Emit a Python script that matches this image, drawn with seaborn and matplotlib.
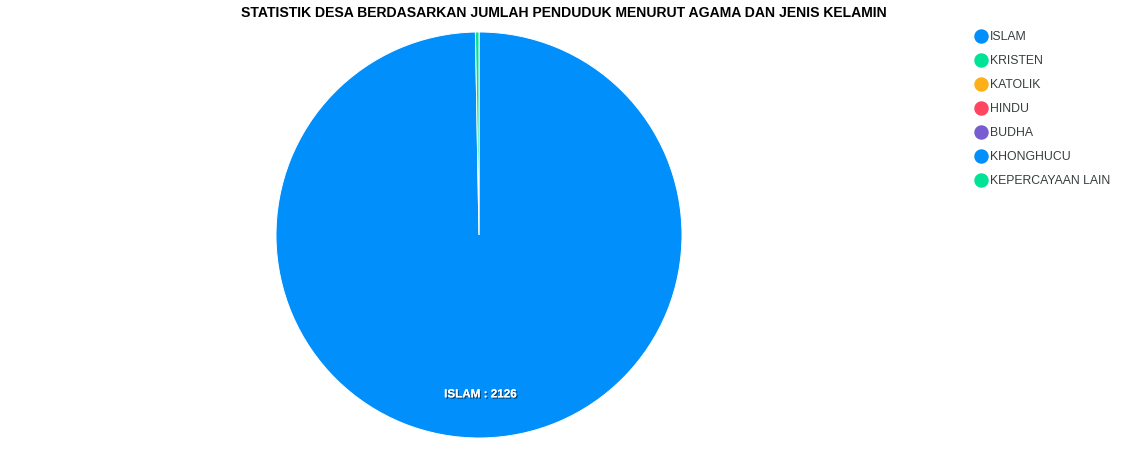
import numpy as np
import matplotlib
matplotlib.use("Agg")
import matplotlib.pyplot as plt
import matplotlib.patheffects as pe
from matplotlib.lines import Line2D
import seaborn as sns

categories = ["ISLAM", "KRISTEN", "KATOLIK", "HINDU", "BUDHA", "KHONGHUCU", "KEPERCAYAAN LAIN"]
values = [2126, 6, 0, 0, 0, 0, 0]
colors = ["#008FFB", "#00E396", "#FEB019", "#FF4560", "#775DD0", "#008FFB", "#00E396"]
title = "STATISTIK DESA BERDASARKAN JUMLAH PENDUDUK MENURUT AGAMA DAN JENIS KELAMIN"

sns.set_theme(style="white")
plt.rcParams["font.family"] = ["Liberation Sans", "DejaVu Sans"]

W, H = 1128, 453
fig = plt.figure(figsize=(W / 100, H / 100), dpi=100)
cx, cy, r = 479, 235, 203
ax = fig.add_axes([(cx - r) / W, (H - cy - r) / H, 2 * r / W, 2 * r / H])

nz = [i for i, v in enumerate(values) if v > 0]
pv = [values[i] for i in nz]
pc = [colors[i] for i in nz]
wedges, _ = ax.pie(pv, colors=pc, startangle=90, counterclock=False,
                   wedgeprops=dict(edgecolor="white", linewidth=0.7), radius=1)
ax.set_xlim(-1, 1)
ax.set_ylim(-1, 1)
ax.set_aspect("equal")
ax.axis("off")

total = sum(values)
cum = 0
for i in nz:
    v = values[i]
    frac = v / total
    if frac > 0.05:
        mid = 90 - 360 * (cum + v / 2) / total
        ang = np.deg2rad(mid)
        ax.text(0.785 * np.cos(ang), 0.785 * np.sin(ang), f"{categories[i]} : {v}",
                ha="center", va="center", color="white", fontsize=8.4, fontweight="bold",
                path_effects=[pe.withSimplePatchShadow(offset=(1, -1), shadow_rgbFace="black", alpha=0.45),
                              pe.Normal()])
    cum += v

fig.text(564 / W, 1 - 13 / H, title, ha="center", va="center", fontsize=10.1,
         fontweight="bold", color="#000000")

# legend, drawn row by row
for k, (lab, c) in enumerate(zip(categories, colors)):
    y = 1 - (36 + 24 * k) / H
    fig.add_artist(Line2D([981 / W], [y], marker="o", linestyle="", markersize=9.4,
                          markerfacecolor=c, markeredgecolor=c, transform=fig.transFigure))
    fig.text(990 / W, y, lab, ha="left", va="center_baseline", fontsize=8.8, color="#373d3f")

fig.savefig("out.png", dpi=100)
